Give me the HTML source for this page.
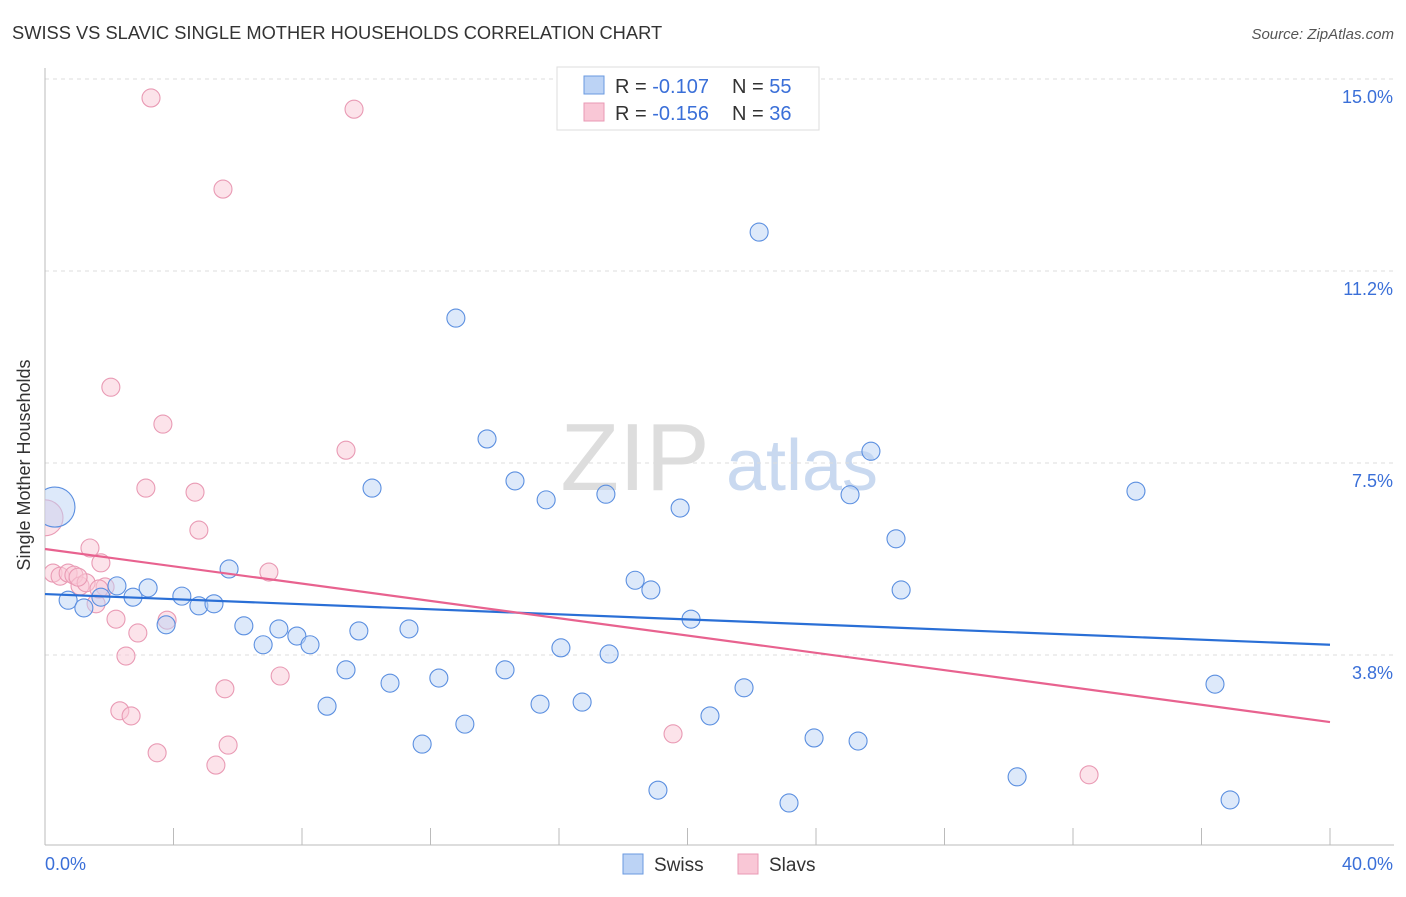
<!DOCTYPE html>
<html><head><meta charset="utf-8"><style>
body{margin:0;background:#fff;font-family:"Liberation Sans",sans-serif;}
svg text{font-family:"Liberation Sans",sans-serif;}
</style></head><body>
<svg id="chart" width="1406" height="892" xmlns="http://www.w3.org/2000/svg">
<text x="12" y="39" font-size="18.3" fill="#333">SWISS VS SLAVIC SINGLE MOTHER HOUSEHOLDS CORRELATION CHART</text>
<text x="1394" y="39" font-size="15" fill="#555" text-anchor="end" font-style="italic">Source: ZipAtlas.com</text>
<g><text x="635" y="490" font-size="96" font-family="Liberation Serif,serif" fill="#ddd" text-anchor="middle">ZIP</text><text x="802" y="490" font-size="72" fill="#c9d9f0" text-anchor="middle">atlas</text></g>
<g id="grid"></g><g id="axes"></g>
<defs><clipPath id="plotclip"><rect x="45" y="60" width="1360" height="790"/></clipPath></defs>
<g id="pts" clip-path="url(#plotclip)"></g><g id="lines"></g>
<text x="20" y="455" font-size="18" fill="#333" text-anchor="middle" transform="rotate(-90 30 455)">Single Mother Households</text>
<g>
<rect x="557" y="67" width="262" height="63" fill="#fff" stroke="#ddd"/>
<rect x="584" y="76" width="20" height="18" fill="#bcd3f5" stroke="#6a9ae0"/>
<rect x="584" y="103" width="20" height="18" fill="#f9c7d6" stroke="#e99ab4"/>
<text x="615" y="93" font-size="20" fill="#333">R = <tspan fill="#3a6fd8">-0.107</tspan></text>
<text x="732" y="93" font-size="20" fill="#333">N = <tspan fill="#3a6fd8">55</tspan></text>
<text x="615" y="120" font-size="20" fill="#333">R = <tspan fill="#3a6fd8">-0.156</tspan></text>
<text x="732" y="120" font-size="20" fill="#333">N = <tspan fill="#3a6fd8">36</tspan></text>
</g>
<g>
<rect x="623" y="854" width="20" height="20" fill="#bcd3f5" stroke="#6a9ae0"/><text x="654" y="871" font-size="19" fill="#333">Swiss</text>
<rect x="738" y="854" width="20" height="20" fill="#f9c7d6" stroke="#e99ab4"/><text x="769" y="871" font-size="19" fill="#333">Slavs</text>
</g>
</svg>
<script>
const yTicks=[15.0,11.25,7.5,3.75];
const yTickLabels=["15.0%","11.2%","7.5%","3.8%"];
const xTickLabels=["0.0%","40.0%"];
const swissX=[0.31,0.72,1.21,1.74,2.24,2.74,3.21,3.77,4.26,4.79,5.26,5.73,6.19,6.79,7.28,7.84,8.25,8.78,9.37,9.77,10.18,10.74,11.33,11.74,12.26,12.79,13.07,13.76,14.32,14.63,15.41,15.60,16.06,16.72,17.46,17.56,18.37,18.86,19.08,19.77,20.11,20.70,21.76,22.23,23.16,23.94,25.06,25.31,25.71,26.49,26.65,30.26,33.96,36.42,36.89];
const swissY=[6.64,4.82,4.67,4.88,5.10,4.88,5.06,4.34,4.90,4.71,4.75,5.43,4.32,3.95,4.26,4.12,3.95,2.75,3.46,4.22,7.01,3.20,4.26,2.01,3.30,10.33,2.40,7.97,3.46,7.15,2.79,6.78,3.89,2.83,6.89,3.77,5.21,5.02,1.11,6.62,4.45,2.56,3.11,12.01,0.86,2.13,6.88,2.07,7.73,6.02,5.02,1.37,6.95,3.18,0.92];
const slavsX=[0,0.25,0.47,0.72,0.90,1.09,1.28,1.40,1.59,1.74,1.87,2.05,2.21,2.33,2.52,2.68,2.89,3.14,3.30,3.49,3.67,3.80,4.67,4.79,5.32,5.54,5.60,5.70,6.97,7.32,9.37,9.62,19.55,32.50,1.03,1.68];
const slavsY=[6.43,5.35,5.29,5.35,5.31,5.10,5.16,5.84,4.75,5.55,5.08,8.98,4.45,2.66,3.73,2.56,4.18,7.01,14.63,1.84,8.26,4.43,6.93,6.19,1.60,12.85,3.09,1.99,5.37,3.34,7.75,14.41,2.21,1.41,5.27,5.04];
const swissLine=[4.94,3.95];
const slavsLine=[5.82,2.44];
const NS="http://www.w3.org/2000/svg";
const X=v=>45+v*32.125, Y=v=>79+(15-v)*51.2;
function mk(t,a,p){const e=document.createElementNS(NS,t);for(const k in a)e.setAttribute(k,a[k]);p.appendChild(e);return e;}
const grid=document.getElementById('grid'),axes=document.getElementById('axes');
yTicks.forEach((v,i)=>{
 const l=mk('line',{x1:45,x2:1394,y1:Y(v),y2:Y(v),stroke:'#ddd','stroke-dasharray':'4,4'},grid);
 
 
 const t=mk('text',{x:1393,y:Y(v)+24,'font-size':18,fill:'#3a6fd8','text-anchor':'end'},axes);
 t.textContent=yTickLabels[i];
 
 
});
mk('line',{x1:45,x2:45,y1:68,y2:845,stroke:'#bbb'},axes);
mk('line',{x1:45,x2:1394,y1:845,y2:845,stroke:'#bbb'},axes);
for(let i=0;i<=10;i++){const x=X(i*4);const l=mk('line',{x1:x,x2:x,y1:828,y2:845,stroke:'#bbb'},axes);
 
 }
[[0,45,'start'],[40,1393,'end']].forEach((d,i)=>{const t=mk('text',{x:d[1],y:870,'font-size':18,fill:'#3a6fd8','text-anchor':d[2]},axes);t.textContent=xTickLabels[i];
 
 });
const pts=document.getElementById('pts');
function series(xs,ys,fill,stroke,name,bigR){xs.forEach((x,i)=>{const c=mk('circle',{cx:X(x),cy:Y(ys[i]),r:i===0?bigR:9,fill:fill,'fill-opacity':0.5,stroke:stroke,'stroke-width':1.1},pts);
 
 });}
series(slavsX,slavsY,'#f9c7d6','#e99ab4','slavs-point',18);
series(swissX,swissY,'#bcd3f5','#5b8fe0','swiss-point',20);
const lines=document.getElementById('lines');
const bl=mk('line',{x1:X(0),y1:Y(swissLine[0]),x2:X(40),y2:Y(swissLine[1]),stroke:'#2a6fd6','stroke-width':2.2},lines);


const pl=mk('line',{x1:X(0),y1:Y(slavsLine[0]),x2:X(40),y2:Y(slavsLine[1]),stroke:'#e8628f','stroke-width':2.2},lines);


</script>
</body></html>
